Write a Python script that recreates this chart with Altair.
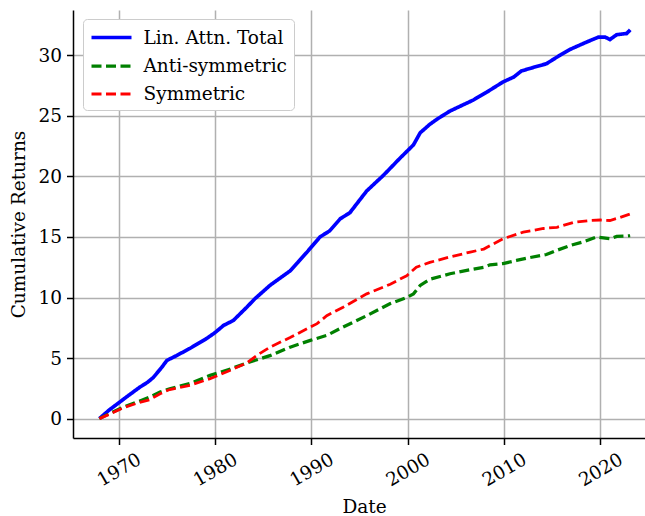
import altair as alt
import pandas as pd

# Cumulative returns of the linear-attention strategy and its two components
total_years = [1968.0, 1969.0, 1970.0, 1971.0, 1972.2, 1973.0, 1973.6, 1974.5, 1975.0, 1976.0,
               1977.4, 1979.1, 1980.0, 1980.9, 1981.9, 1983.3, 1984.15, 1985.7, 1986.4, 1987.8,
               1988.6, 1989.5, 1990.9, 1991.9, 1993.0, 1994.0, 1995.75, 1997.5, 1999.2, 2000.6,
               2001.3, 2002.3, 2003.0, 2004.4, 2006.8, 2008.2, 2009.9, 2011.0, 2011.8, 2013.05,
               2014.4, 2015.8, 2016.9, 2018.6, 2019.8, 2020.5, 2021.0, 2021.7, 2022.75, 2023.1]
total_vals = [0.0, 0.7, 1.3, 1.9, 2.6, 3.0, 3.4, 4.26, 4.8, 5.2,
              5.8, 6.6, 7.1, 7.7, 8.1, 9.2, 9.9, 11.0, 11.4, 12.2,
              12.9, 13.7, 15.0, 15.5, 16.5, 17.0, 18.8, 20.1, 21.5, 22.6,
              23.6, 24.3, 24.7, 25.4, 26.3, 26.95, 27.8, 28.2, 28.7, 29.0,
              29.3, 30.0, 30.5, 31.1, 31.5, 31.5, 31.3, 31.7, 31.8, 32.1]

anti_years = [1968.0, 1969.0, 1970.5, 1972.0, 1973.25, 1974.3, 1975.3, 1977.4, 1979.5, 1981.6,
              1983.3, 1985.7, 1987.8, 1989.9, 1991.6, 1993.3, 1995.75, 1998.2, 1999.9, 2000.6,
              2001.3, 2002.3, 2004.4, 2006.5, 2007.9, 2008.55, 2009.9, 2011.3, 2012.7, 2014.4,
              2015.5, 2016.9, 2018.25, 2019.6, 2021.0, 2021.7, 2022.75, 2023.1]
anti_vals = [0.0, 0.4, 0.96, 1.4, 1.78, 2.2, 2.47, 2.9, 3.57, 4.1,
             4.6, 5.2, 5.9, 6.46, 6.87, 7.56, 8.5, 9.5, 10.0, 10.3,
             11.0, 11.5, 11.96, 12.3, 12.5, 12.7, 12.8, 13.06, 13.3, 13.55,
             13.9, 14.3, 14.6, 15.0, 14.85, 15.04, 15.07, 15.1]

sym_years = [1968.0, 1969.0, 1970.5, 1972.0, 1973.25, 1974.3, 1975.3, 1977.4, 1979.5, 1981.6,
             1983.3, 1984.5, 1985.7, 1987.8, 1989.9, 1990.6, 1991.6, 1993.3, 1995.75, 1998.2,
             1999.9, 2000.9, 2002.3, 2004.4, 2006.5, 2007.9, 2009.9, 2012.0, 2014.1, 2015.5,
             2017.2, 2018.9, 2020.0, 2021.0, 2022.0, 2023.1]
sym_vals = [0.0, 0.35, 0.9, 1.3, 1.57, 2.06, 2.4, 2.75, 3.3, 4.0,
            4.6, 5.3, 5.9, 6.7, 7.56, 7.84, 8.5, 9.2, 10.3, 11.1,
            11.8, 12.5, 12.9, 13.35, 13.75, 14.0, 14.85, 15.4, 15.7, 15.8,
            16.2, 16.36, 16.4, 16.36, 16.6, 16.9]

series_names = ["Lin. Attn. Total", "Anti-symmetric", "Symmetric"]
series_colors = ["#0000ff", "#008000", "#ff0000"]
series_dash = [[1, 0], [10, 4.5], [10, 4.5]]
series_widths = [3.7, 2.8, 2.8]
x_ticks = [1970, 1980, 1990, 2000, 2010, 2020]
y_ticks = [0, 5, 10, 15, 20, 25, 30]

frames = []
for name, yrs, vals in zip(series_names,
                           [total_years, anti_years, sym_years],
                           [total_vals, anti_vals, sym_vals]):
    frames.append(pd.DataFrame({"Date": yrs, "Value": vals, "Series": name}))
df = pd.concat(frames, ignore_index=True)

FONT = "DejaVu Serif"
FS = 18.5

# legend handles: a horizontal stroke twice as wide as the symbol box
legend = alt.Legend(
    title=None, orient="none", legendX=10, legendY=9,
    symbolType="M-2,0H2", symbolSize=400, symbolOffset=10,
    labelFont=FONT, labelFontSize=FS, labelColor="black", labelOffset=20,
    fillColor="white", strokeColor="#cccccc", cornerRadius=4, padding=6.5,
    rowPadding=6.5,
)

chart = alt.Chart(df).mark_line().encode(
    x=alt.X("Date:Q",
            scale=alt.Scale(domain=[1965.26, 2024.64], nice=False, zero=False),
            axis=alt.Axis(values=x_ticks, format="d", title="Date",
                          labelAngle=330, labelAlign="center", labelBaseline="middle",
                          labelPadding=24.8, titleX=291, titleY=74,
                          titleAlign="center", titleBaseline="alphabetic")),
    y=alt.Y("Value:Q",
            scale=alt.Scale(domain=[-1.6, 33.74], nice=False, zero=False),
            axis=alt.Axis(values=y_ticks, title="Cumulative Returns",
                          labelPadding=5, titleX=-54.5, titleY=214,
                          titleAlign="center", titleBaseline="middle", titleAngle=270)),
    color=alt.Color("Series:N", scale=alt.Scale(domain=series_names, range=series_colors),
                    legend=legend),
    strokeDash=alt.StrokeDash("Series:N", scale=alt.Scale(domain=series_names, range=series_dash),
                              legend=legend),
    strokeWidth=alt.StrokeWidth("Series:N", scale=alt.Scale(domain=series_names, range=series_widths),
                                legend=legend),
).properties(
    width=572, height=428,
    padding={"left": 73, "top": 10, "right": 0, "bottom": 78},
    autosize=alt.AutoSizeParams(type="none"),
).configure_view(
    stroke=None
).configure_axis(
    labelFont=FONT, labelFontSize=FS, labelColor="black",
    titleFont=FONT, titleFontSize=FS, titleColor="black", titleFontWeight="normal",
    domainColor="black", domainWidth=1.5, tickColor="black", tickWidth=1.5, tickSize=6.5,
    gridColor="#b0b0b0", gridWidth=1.5, gridOpacity=1,
)

chart.save("out.html", embed_options={"renderer": "svg", "actions": False})
